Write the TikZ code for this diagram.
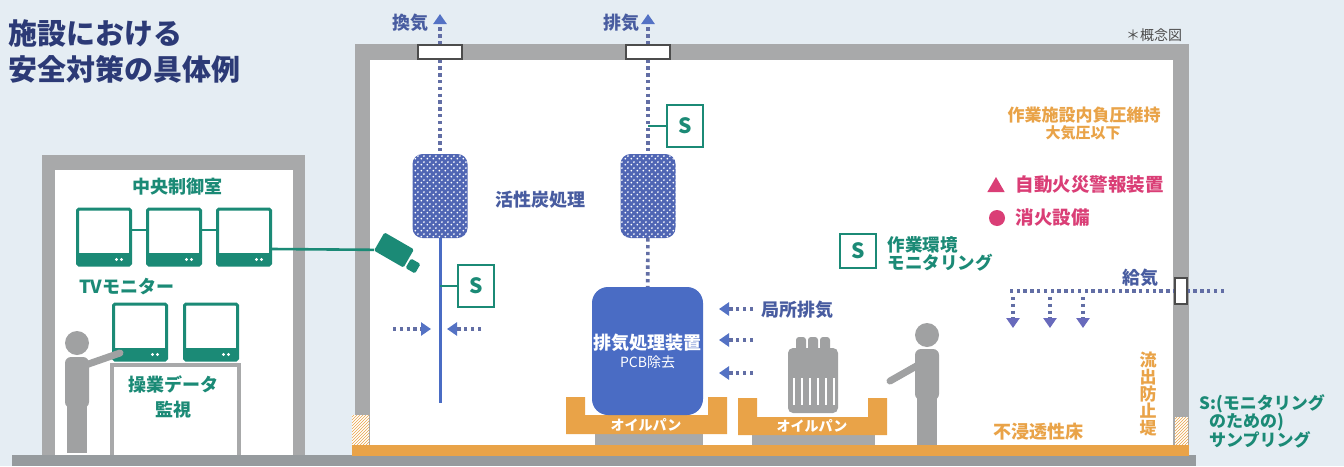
\documentclass[tikz,border=0pt]{standalone}
\usepackage{fontspec}
\setmainfont{Noto Sans CJK JP}
\usetikzlibrary{arrows.meta,patterns,shapes.geometric}

\definecolor{paper}{RGB}{229,237,243}
\definecolor{wallgray}{RGB}{168,169,170}
\definecolor{floorgray}{RGB}{150,155,158}
\definecolor{monteal}{RGB}{27,138,118}
\definecolor{navy}{RGB}{44,58,118}
\definecolor{labelblue}{RGB}{72,92,160}
\definecolor{ductblue}{RGB}{98,110,165}
\definecolor{tipblue}{RGB}{84,114,196}
\definecolor{supplyviolet}{RGB}{104,106,188}
\definecolor{unitblue}{RGB}{74,108,196}
\definecolor{meshblue}{RGB}{80,102,180}
\definecolor{panorange}{RGB}{233,163,72}
\definecolor{firered}{RGB}{218,62,118}
\definecolor{persongray}{RGB}{160,161,162}

\pgfdeclarepatternformonly{mesh}{\pgfpointorigin}{\pgfqpoint{6pt}{6pt}}{\pgfqpoint{6pt}{6pt}}{%
  \pgfpathcircle{\pgfqpoint{1.5pt}{1.5pt}}{1.1pt}%
  \pgfpathcircle{\pgfqpoint{4.5pt}{4.5pt}}{1.1pt}%
  \pgfusepath{fill}}

\newcommand{\fsz}[1]{\fontsize{#1}{#1}\selectfont}

\tikzset{
  worker/.pic={
    \fill[persongray] (0,-110) circle (12pt);
    \fill[persongray, rounded corners=6pt] (-12,-45) rectangle (12,-96);
    \fill[persongray] (-10,-50) rectangle (10,0);
    \draw[persongray, line width=7pt, line cap=round] (0,-85) -- #1;
  }
}

\begin{document}
\begin{tikzpicture}[x=1pt, y=-1pt,
  wall/.style={fill=wallgray},
  monitor/.style={draw=monteal, line width=3pt, fill=white, rounded corners=1.5pt,
                  minimum width=53pt, minimum height=56pt,
                  path picture={
                    \fill[monteal] (path picture bounding box.south west) rectangle ([yshift=12pt]path picture bounding box.south east);
                    \fill[white] ([xshift=-9pt,yshift=5.5pt]path picture bounding box.south east) circle (1.6pt)
                                 ([xshift=-14pt,yshift=5.5pt]path picture bounding box.south east) circle (1.6pt);}},
  camera/.style={fill=monteal, rounded corners=1.5pt, inner sep=0pt},
  sbox/.style={draw=monteal, line width=2.6pt, fill=white, minimum width=36pt, minimum height=42pt,
               text=monteal, font=\bfseries\fsz{21}},
  vent/.style={draw=black!70, line width=1.2pt, fill=white, inner sep=0pt},
  filter/.style={rounded corners=10pt, minimum width=55pt, minimum height=84pt, fill=meshblue,
                 postaction={pattern=mesh, pattern color=white}},
  unit/.style={fill=unitblue, rounded corners=16pt, minimum width=111pt, minimum height=128pt,
               text=white, align=center, inner sep=0pt},
  duct/.style={ductblue, line width=3.6pt, dash pattern=on 3.4pt off 3.4pt},
  flow/.style={duct, -{Triangle[width=13pt,length=10pt,color=tipblue]}},
  supply/.style={duct, -{Triangle[width=13pt,length=10pt,color=supplyviolet]}},
  hose/.style={unitblue, line width=3pt},
  wire/.style={monteal, line width=2.6pt},
  lbl/.style={font=\bfseries\fsz{18}},
  pantext/.style={text=white, font=\bfseries\fsz{14}}
]
  \fill[paper] (0,0) rectangle (1344,466);

  \fill[wall] (42,155) rectangle (305,457);
  \fill[white] (55,170) rectangle (293,457);
  \fill[wall] (355,44) rectangle (1189,457);
  \fill[white] (370,60) rectangle (1173,445);
  \fill[white] (352,415) rectangle (369,445);
  \fill[pattern=north east lines, pattern color=panorange] (352,415) rectangle (369,445);
  \fill[white] (1175,417) rectangle (1188,445);
  \fill[pattern=north east lines, pattern color=panorange] (1175,417) rectangle (1188,445);
  \fill[floorgray] (12,455) rectangle (1196,466);
  \fill[panorange] (352,445) rectangle (1189,456);

  \node[anchor=north west, align=left, inner sep=0pt, text=navy,
        font=\bfseries\fontsize{29}{36}\selectfont] (title) at (8,19) {施設における\\安全対策の具体例};
  \node[font=\fsz{14}, text=black!70] (note) at (1154,35) {＊概念図};

  \node[lbl, text=monteal] (ctrl) at (177,187) {中央制御室};
  \node[monitor] (M1) at (104,237) {};
  \node[monitor] (M2) at (174,237) {};
  \node[monitor] (M3) at (244,237) {};
  \draw[wire] ([yshift=7pt]M1.east) -- ([yshift=7pt]M2.west);
  \draw[wire] ([yshift=7pt]M2.east) -- ([yshift=7pt]M3.west);
  \node[lbl, text=monteal] (tvlbl) at (127,287) {TVモニター};
  \node[monitor] (M4) at (140,332) {};
  \node[monitor] (M5) at (211,332) {};
  \draw[wallgray, line width=4pt] (112,455) -- (112,365) -- (239,365) -- (239,455);
  \node[lbl, text=monteal, align=center, font=\bfseries\fontsize{18}{25}\selectfont] (desk) at (173,397) {操業データ\\監視};
  \pic at (77,453) {worker={(43,-100)}};

  \node[camera, minimum width=34pt, minimum height=21pt, rotate=-30] (cam) at (394,250) {};
  \node[camera, minimum size=11pt, rotate=-30] (lens) at (413,266) {};
  \draw[wire] ([yshift=-12pt]M3.east) -- (cam);

  \node[vent, minimum width=44pt, minimum height=14pt] (V1) at (440,52) {};
  \node[vent, minimum width=44pt, minimum height=14pt] (V2) at (648,52) {};
  \node[filter] (F1) at (440,196) {};
  \node[filter] (F2) at (648,196) {};
  \coordinate (up1) at (440,14);
  \coordinate (up2) at (648,14);
  \draw[flow] (V1) -- (up1);
  \draw[flow] (V2) -- (up2);
  \draw[duct] (V1) -- (F1);
  \draw[duct] (V2) -- (F2);
  \node[lbl, text=labelblue] (ventlbl) at (410,23) {換気};
  \node[lbl, text=labelblue] (exhlbl) at (621,23) {排気};
  \node[lbl, text=labelblue] (carbon) at (540,200) {活性炭処理};

  \coordinate (hoseend) at (440,403);
  \draw[hose] (F1) -- (hoseend);
  \node[sbox] (S1) at (476,286) {S};
  \draw[wire] (S1) -- (S1 -| F1);
  \node[sbox] (S2) at (685,126) {S};
  \draw[wire] (S2) -- (S2 -| V2);
  \coordinate (lin) at (393,329);
  \coordinate (lintip) at (431,329);
  \coordinate (rin) at (481,329);
  \coordinate (rintip) at (447,329);
  \draw[flow] (lin) -- (lintip);
  \draw[flow] (rin) -- (rintip);

  \fill[wallgray] (595,434) rectangle (703,445);
  \fill[wallgray] (752,435) rectangle (875,445);
  \fill[panorange] (566,397) -- (585,397) -- (585,415) -- (708,415) -- (708,397) -- (727,397)
                   -- (727,434) -- (566,434) -- cycle;
  \fill[panorange] (738,398) -- (757,398) -- (757,417) -- (868,417) -- (868,398) -- (887,398)
                   -- (887,435) -- (738,435) -- cycle;
  \node[pantext] (pan1) at (646,425) {オイルパン};
  \node[pantext] (pan2) at (812,426) {オイルパン};

  \node[unit] (unit) at (647.5,351) {\bfseries\fsz{18}排気処理装置\\[3pt]\fsz{14}PCB除去};
  \draw[duct] (F2) -- (unit);
  \foreach \y/\n in {309/a,340/b,373/c} {
    \coordinate (lx\n) at (753,\y);
    \coordinate (lt\n) at (719,\y);
    \draw[flow] (lx\n) -- (lt\n);
  }
  \node[lbl, text=labelblue, anchor=west] (locallbl) at (758,310) {局所排気};

  \fill[persongray, rounded corners=5pt] (788,348) rectangle (838,413);
  \foreach \x in {801,813,825}
    \fill[persongray, rounded corners=3pt] (\x-5,337) rectangle (\x+5,352);
  \foreach \x in {794,802,...,834}
    \draw[white, line width=2.2pt] (\x,378) -- (\x,405);
  \pic at (927,445) {worker={(-37,-64)}};

  \node[sbox, minimum height=34pt] (S3) at (858,251) {S};
  \node[lbl, text=monteal, align=left, anchor=west, font=\bfseries\fontsize{17.5}{18}\selectfont] (envlbl) at (884,254) {作業環境\\モニタリング};

  \node[text=panorange, font=\bfseries\fsz{17}] (negp) at (1084,115) {作業施設内負圧維持};
  \node[text=panorange, font=\bfseries\fsz{15}] (atm) at (1083,133) {大気圧以下};
  \node[regular polygon, regular polygon sides=3, fill=firered, minimum size=20pt, inner sep=0pt] (alarm) at (996,187) {};
  \node[lbl, text=firered, anchor=west, font=\bfseries\fsz{18.5}] (alarmlbl) at (1012,185) {自動火災警報装置};
  \node[circle, fill=firered, minimum size=16pt, inner sep=0pt] (hydrant) at (997,218) {};
  \node[lbl, text=firered, anchor=west, font=\bfseries\fsz{18.5}] (hydrantlbl) at (1012,218) {消火設備};

  \coordinate (airin) at (1224,291);
  \coordinate (airend) at (1010,291);
  \draw[duct] (airin) -- (airend);
  \node[vent, minimum width=12pt, minimum height=26pt] (V3) at (1181,291) {};
  \node[lbl, text=labelblue] (airlbl) at (1140,278) {給気};
  \foreach \x/\n in {1013/a,1050/b,1083/c} {
    \coordinate (sa\n) at (\x,297);
    \coordinate (st\n) at (\x,328);
    \draw[supply] (sa\n) -- (st\n);
  }

  \node[text=panorange, align=center, font=\bfseries\fsz{17}] (bank) at (1148,394) {流\\出\\防\\止\\堤};
  \node[lbl, text=panorange] (floorlbl) at (1038,432) {不浸透性床};
  \node[text=monteal, align=left, anchor=north west, inner sep=0pt,
        font=\bfseries\fontsize{17}{18.5}\selectfont] (legend) at (1199,394) {S:(モニタリング\\\hspace*{10pt}のための)\\\hspace*{10pt}サンプリング};
\end{tikzpicture}
\end{document}
